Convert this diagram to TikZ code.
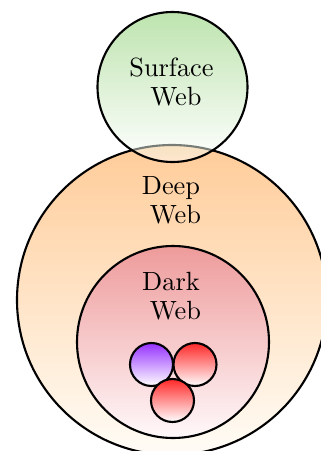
\documentclass[tikz,border=0pt]{standalone}
\usepackage{tikz}
\definecolor{surftop}{RGB}{125,201,95}
\definecolor{deeptop}{RGB}{255,204,153}
\definecolor{deepbot}{RGB}{255,252,246}
\definecolor{darktop}{RGB}{238,155,155}
\definecolor{darkbot}{RGB}{255,248,250}
\definecolor{purptop}{RGB}{150,50,255}
\definecolor{redtop}{RGB}{255,40,40}
\tikzset{
  ring/.style={circle, draw=black, thick, inner sep=0pt, minimum size=#1*0.013333cm},
  lbl/.style={align=center, font=\fontsize{10}{11}\selectfont, inner sep=0pt},
}
\begin{document}
\begin{tikzpicture}[x=0.013333cm, y=-0.013333cm]
\useasboundingbox (0,0) rectangle (320,451);
\node[ring=310, top color=deeptop, bottom color=deepbot] (deep) at (172,300) {};
\node[ring=150, top color=surftop, bottom color=white, fill opacity=0.5, draw opacity=1] (surface) at (172.5,87) {};
\node[ring=192, top color=darktop, bottom color=darkbot] (dark) at (173,342) {};
\node[ring=43, top color=purptop, bottom color=white] (c1) at (151.5,364.5) {};
\node[ring=43, top color=redtop, bottom color=white] (c2) at (195,364.5) {};
\node[ring=43, top color=redtop, bottom color=white] (c3) at (172.5,400.5) {};
\node[lbl] (tsurface) at (171.5,82.4) {Surface\\\ Web};
\node[lbl] (tdeep) at (171,200) {Deep\\\ Web};
\node[lbl] (tdark) at (171,296.4) {Dark\\\ Web};
\end{tikzpicture}
\end{document}
